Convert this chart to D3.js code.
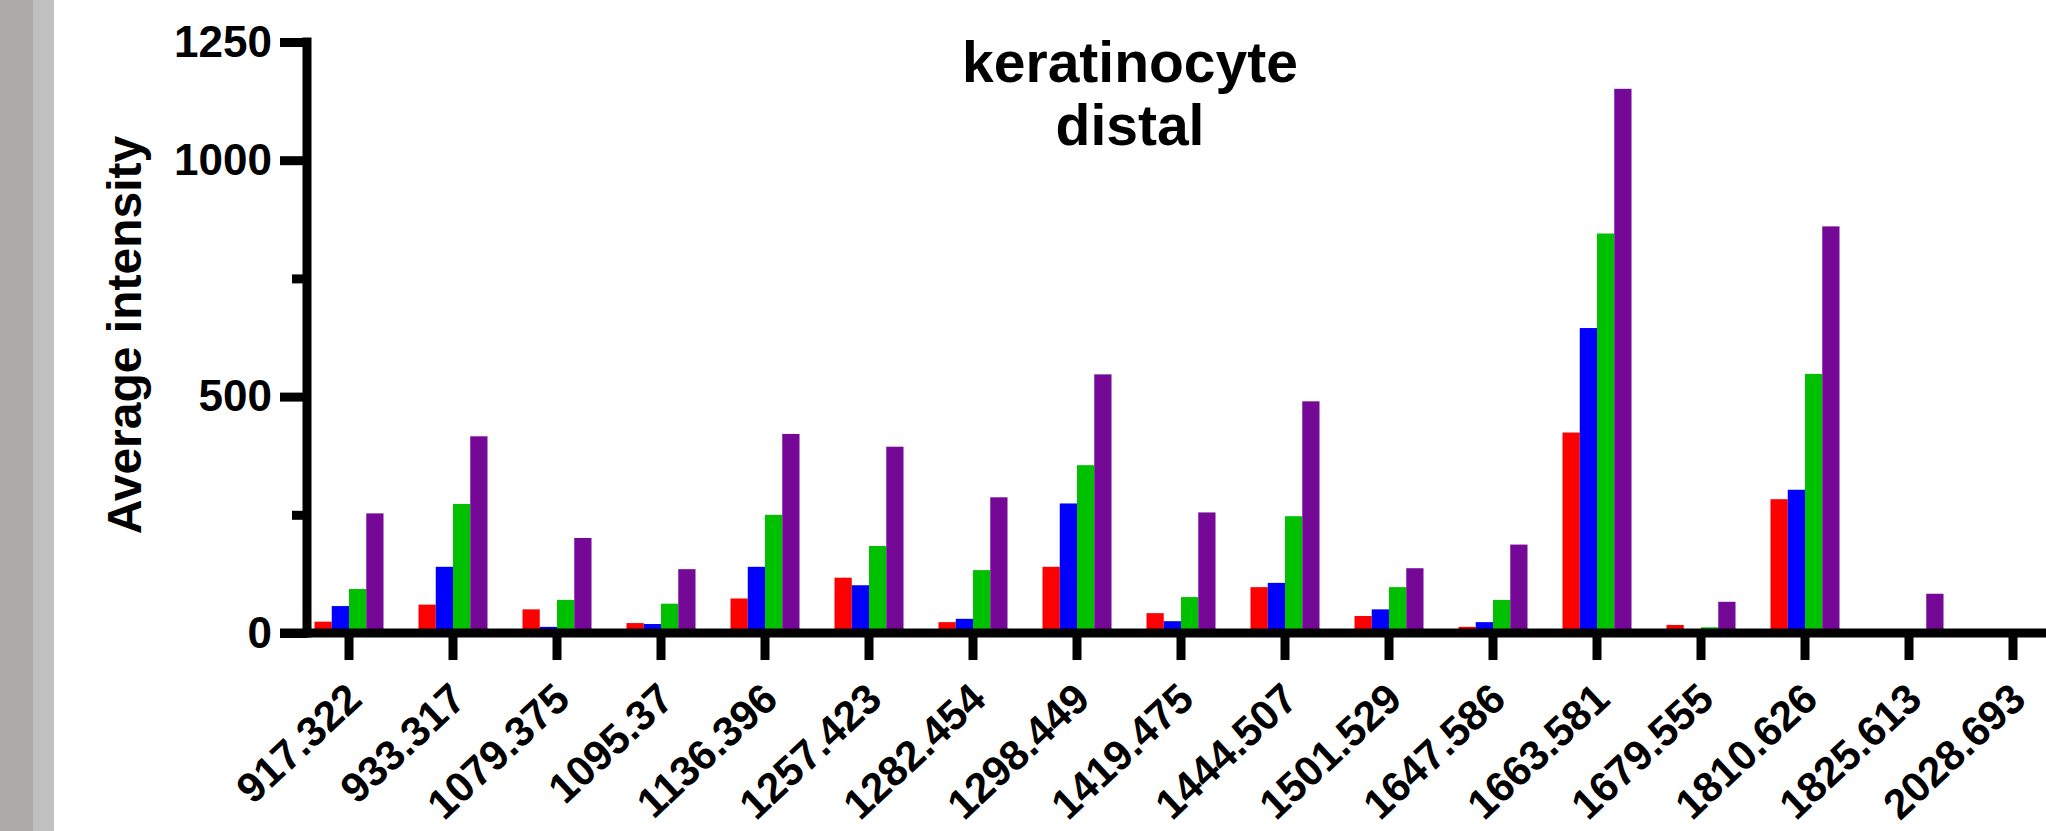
<!DOCTYPE html>
<html>
<head>
<meta charset="utf-8">
<script src="https://cdn.jsdelivr.net/npm/d3@7"></script>
<style>
  body { margin: 0; background: #fff; }
  svg { display: block; font-family: "Liberation Sans", Arial, sans-serif; font-weight: bold; }
</style>
</head>
<body>
<svg class="svg-chart" width="2046" height="831"></svg>
<script>
// m/z categories along the x axis
const categories = ['917.322', '933.317', '1079.375', '1095.37', '1136.396', '1257.423',
  '1282.454', '1298.449', '1419.475', '1444.507', '1501.529', '1647.586', '1663.581',
  '1679.555', '1810.626', '1825.613', '2028.693']

// four series, one bar each per category (red, blue, green, purple)
const seriesRed = [24, 60, 50, 21, 73, 117, 23, 140, 42, 97, 36, 13, 424, 17, 283, 0, 0]
const seriesBlue = [57, 140, 13, 19, 140, 101, 30, 274, 25, 106, 50, 23, 645, 0, 303, 0, 0]
const seriesGreen = [93, 273, 70, 62, 250, 184, 133, 355, 76, 247, 97, 70, 845, 12, 548, 0, 0]
const seriesPurple = [253, 416, 201, 135, 421, 394, 287, 547, 255, 490, 137, 187, 1151, 66, 860, 83, 0]

const seriesNames = ['red', 'blue', 'green', 'purple']
const seriesColors = ['#ff0000', '#0000ff', '#00c000', '#750896']
const seriesValues = [seriesRed, seriesBlue, seriesGreen, seriesPurple]

const yMajorTicks = [0, 500, 1000, 1250]
const yMinorTicks = [250, 750]

const titleLines = ['keratinocyte', 'distal']
const yTitle = 'Average intensity'

const svg = d3.select('.svg-chart')

// grey strips at the left edge of the screenshot
svg.append('rect').attr('x', 0).attr('y', 0).attr('width', 33).attr('height', 831).attr('fill', '#aeaaa9')
svg.append('rect').attr('x', 33).attr('y', 0).attr('width', 21).attr('height', 831).attr('fill', '#c0c0c0')

const x = d3.scaleBand()
  .domain(categories)
  .range([297, 297 + 104 * categories.length])
  .paddingInner(35 / 104)
  .paddingOuter(35 / 208)

const xSeries = d3.scaleBand()
  .domain(seriesNames)
  .range([0, x.bandwidth()])

const y = d3.scaleLinear()
  .domain([0, 1250])
  .range([633, 42])

const yAxisX = 307

// bars
const barData = []
categories.forEach((c, i) => {
  seriesNames.forEach((s, j) => {
    barData.push({ cat: c, series: s, value: seriesValues[j][i], fill: seriesColors[j] })
  })
})

svg.append('g')
  .selectAll('rect')
  .data(barData.filter((d) => d.value > 0))
  .enter()
  .append('rect')
  .attr('x', (d) => x(d.cat) + xSeries(d.series))
  .attr('width', xSeries.bandwidth())
  .attr('y', (d) => y(d.value))
  .attr('height', (d) => y(0) - y(d.value))
  .attr('fill', (d) => d.fill)

// x axis
const xAxis = svg.append('g')
  .attr('transform', 'translate(0,' + y(0) + ')')
  .call(d3.axisBottom(x).tickSize(27).tickSizeOuter(0))

xAxis.select('.domain').remove()
xAxis.selectAll('.tick line').attr('stroke', '#000').attr('stroke-width', 9)
xAxis.selectAll('.tick text')
  .attr('fill', '#000')
  .attr('font-size', 42)
  .attr('font-family', '"Liberation Sans", Arial, sans-serif')
  .attr('font-weight', 'bold')
  .attr('y', 0)
  .attr('dy', 0)
  .attr('text-anchor', 'end')
  .attr('transform', 'translate(15,69) rotate(-43)')

svg.append('line')
  .attr('x1', 280)
  .attr('x2', 2046)
  .attr('y1', y(0))
  .attr('y2', y(0))
  .attr('stroke', '#000')
  .attr('stroke-width', 9)

// y axis
const yAxis = svg.append('g')
  .attr('transform', 'translate(' + yAxisX + ',0)')
  .call(d3.axisLeft(y).tickValues(yMajorTicks).tickSize(27).tickSizeOuter(0).tickPadding(8).tickFormat(d3.format('d')))

yAxis.select('.domain').remove()
yAxis.selectAll('.tick line').attr('stroke', '#000').attr('stroke-width', 9)
yAxis.selectAll('.tick text')
  .attr('fill', '#000')
  .attr('font-size', 44)
  .attr('font-family', '"Liberation Sans", Arial, sans-serif')
  .attr('font-weight', 'bold')

const yMinor = svg.append('g')
  .attr('transform', 'translate(' + yAxisX + ',0)')
  .call(d3.axisLeft(y).tickValues(yMinorTicks).tickSize(15).tickSizeOuter(0).tickFormat(''))

yMinor.select('.domain').remove()
yMinor.selectAll('.tick line').attr('stroke', '#000').attr('stroke-width', 9)

svg.append('line')
  .attr('x1', yAxisX)
  .attr('x2', yAxisX)
  .attr('y1', y(1250) - 4.5)
  .attr('y2', y(0) + 4.5)
  .attr('stroke', '#000')
  .attr('stroke-width', 9)

// y axis title
svg.append('text')
  .attr('transform', 'translate(141,335) rotate(-90)')
  .attr('text-anchor', 'middle')
  .attr('font-size', 48)
  .attr('fill', '#000')
  .text(yTitle)

// chart title
svg.append('g')
  .selectAll('text')
  .data(titleLines)
  .enter()
  .append('text')
  .attr('x', 1130)
  .attr('y', (d, i) => 82 + i * 63)
  .attr('text-anchor', 'middle')
  .attr('font-size', 57)
  .attr('fill', '#000')
  .text((d) => d)
</script>
</body>
</html>
